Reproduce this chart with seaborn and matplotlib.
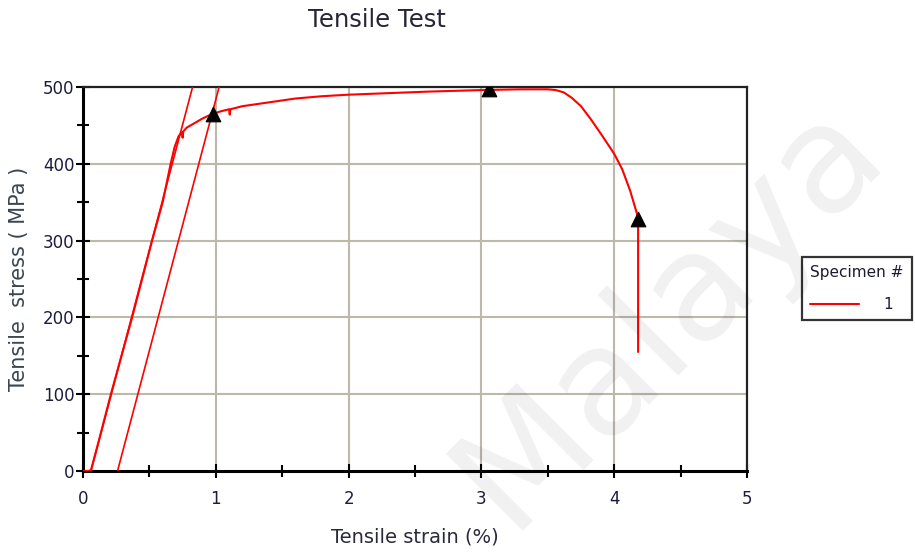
import numpy as np
import pandas as pd
import matplotlib
matplotlib.use("Agg")
import matplotlib.pyplot as plt
from matplotlib.ticker import MultipleLocator
import seaborn as sns

# Stress-strain record for specimen 1
strain = [0.00, 0.04, 0.06, 0.12, 0.21, 0.37, 0.52, 0.60, 0.66, 0.69, 0.72,
          0.745, 0.75, 0.755, 0.78, 0.82, 0.86, 0.90, 0.95, 0.98, 1.03,
          1.10, 1.105, 1.11, 1.20, 1.40, 1.60, 1.80, 2.00, 2.30, 2.60,
          3.00, 3.30, 3.50, 3.56, 3.62, 3.68, 3.75, 3.82, 3.90, 4.00,
          4.06, 4.12, 4.18, 4.18]
stress = [0, 0, 1, 40, 100, 200, 300, 350, 400, 422, 436,
          441, 434, 442, 447, 451, 455, 459, 463, 465, 468,
          471, 464, 471, 475, 480, 485, 488, 490, 492, 494,
          496, 497, 497, 496, 493, 486, 475, 459, 439, 413,
          393, 365, 330, 155]

# Modulus line and 0.2 % offset line
modulus_strain = [0.06, 0.825]
modulus_stress = [0, 500]
offset_strain = [0.26, 1.025]
offset_stress = [0, 500]

# Marked points: yield, maximum load, break
mark_strain = [0.98, 3.06, 4.18]
mark_stress = [465, 498, 328]

x_ticks = [0, 1, 2, 3, 4, 5]
y_ticks = [0, 100, 200, 300, 400, 500]

df = pd.DataFrame({"Tensile strain (%)": strain,
                   "Tensile stress ( MPa )": stress,
                   "Specimen #": ["1"] * len(strain)})

sns.set_theme(style="white")
plt.rcParams["font.family"] = ["DejaVu Sans"]

fig = plt.figure(figsize=(9.15, 5.53), dpi=100)
ax = fig.add_axes([83 / 915, 1 - 471 / 553, (747 - 83) / 915, (471 - 87) / 553])

grid_c = "#bcb8aa"
for xv in x_ticks[1:-1]:
    ax.axvline(xv, color=grid_c, lw=1.5, zorder=0)
for yv in y_ticks[1:-1]:
    ax.axhline(yv, color=grid_c, lw=1.5, zorder=0)

sns.lineplot(x=modulus_strain, y=modulus_stress, color="red", lw=1.2,
             ax=ax, legend=False, zorder=3)
sns.lineplot(x=offset_strain, y=offset_stress, color="red", lw=1.2,
             ax=ax, legend=False, zorder=3)
sns.lineplot(data=df, x="Tensile strain (%)", y="Tensile stress ( MPa )",
             hue="Specimen #", palette=["red"], sort=False, estimator=None,
             lw=1.5, ax=ax, zorder=4)
sns.scatterplot(x=mark_strain, y=mark_stress, marker="^", s=110,
                color="black", edgecolor="black", ax=ax, zorder=5,
                legend=False)

ax.set_xlim(0, 5)
ax.set_ylim(0, 500)
ax.set_xticks(x_ticks)
ax.set_yticks(y_ticks)
ax.xaxis.set_minor_locator(MultipleLocator(0.5))
ax.yaxis.set_minor_locator(MultipleLocator(50))
ax.tick_params(which="major", direction="inout", length=10, width=1.5,
               colors="black", labelcolor="#1c1c40", labelsize=12)
ax.tick_params(which="minor", direction="inout", length=8, width=1.5,
               colors="black")
ax.tick_params(axis="x", which="both", bottom=True, pad=9)
ax.tick_params(axis="y", which="both", left=True, pad=1)

for side in ["left", "bottom"]:
    ax.spines[side].set_color("black")
    ax.spines[side].set_linewidth(2.2)
for side in ["top", "right"]:
    ax.spines[side].set_color("#222222")
    ax.spines[side].set_linewidth(1.6)

ax.set_xlabel("Tensile strain (%)", fontsize=14, color="#2a2a3a", labelpad=14)
ax.set_ylabel("Tensile  stress ( MPa )", fontsize=15, color="#3b4650",
              labelpad=10)
fig.text(377 / 915, 1 - 20 / 553, "Tensile Test", ha="center", va="center",
         fontsize=17.5, color="#262636")

sns.move_legend(ax, loc="upper left", bbox_to_anchor=(802 / 915, 1 - 257 / 553),
                bbox_transform=fig.transFigure, title="Specimen #",
                frameon=True, fancybox=False, fontsize=11, title_fontsize=11,
                handlelength=3.2, handletextpad=1.6, borderpad=0.55,
                labelspacing=0.7, alignment="left", borderaxespad=0)
leg = ax.get_legend()
leg.get_frame().set_edgecolor("black")
leg.get_frame().set_linewidth(1.6)
leg.get_title().set_color("#1c1c30")
leg._legend_box.sep = 12
for t in leg.get_texts():
    t.set_color("#1c1c30")

# faint diagonal watermark
fig.text(668 / 915, 1 - 312 / 553, "Malaya", rotation=45,
         rotation_mode="anchor", ha="center", va="center", fontsize=108,
         color="#000000", alpha=0.06, zorder=10)

fig.savefig("out.png", dpi=100, facecolor="white")
